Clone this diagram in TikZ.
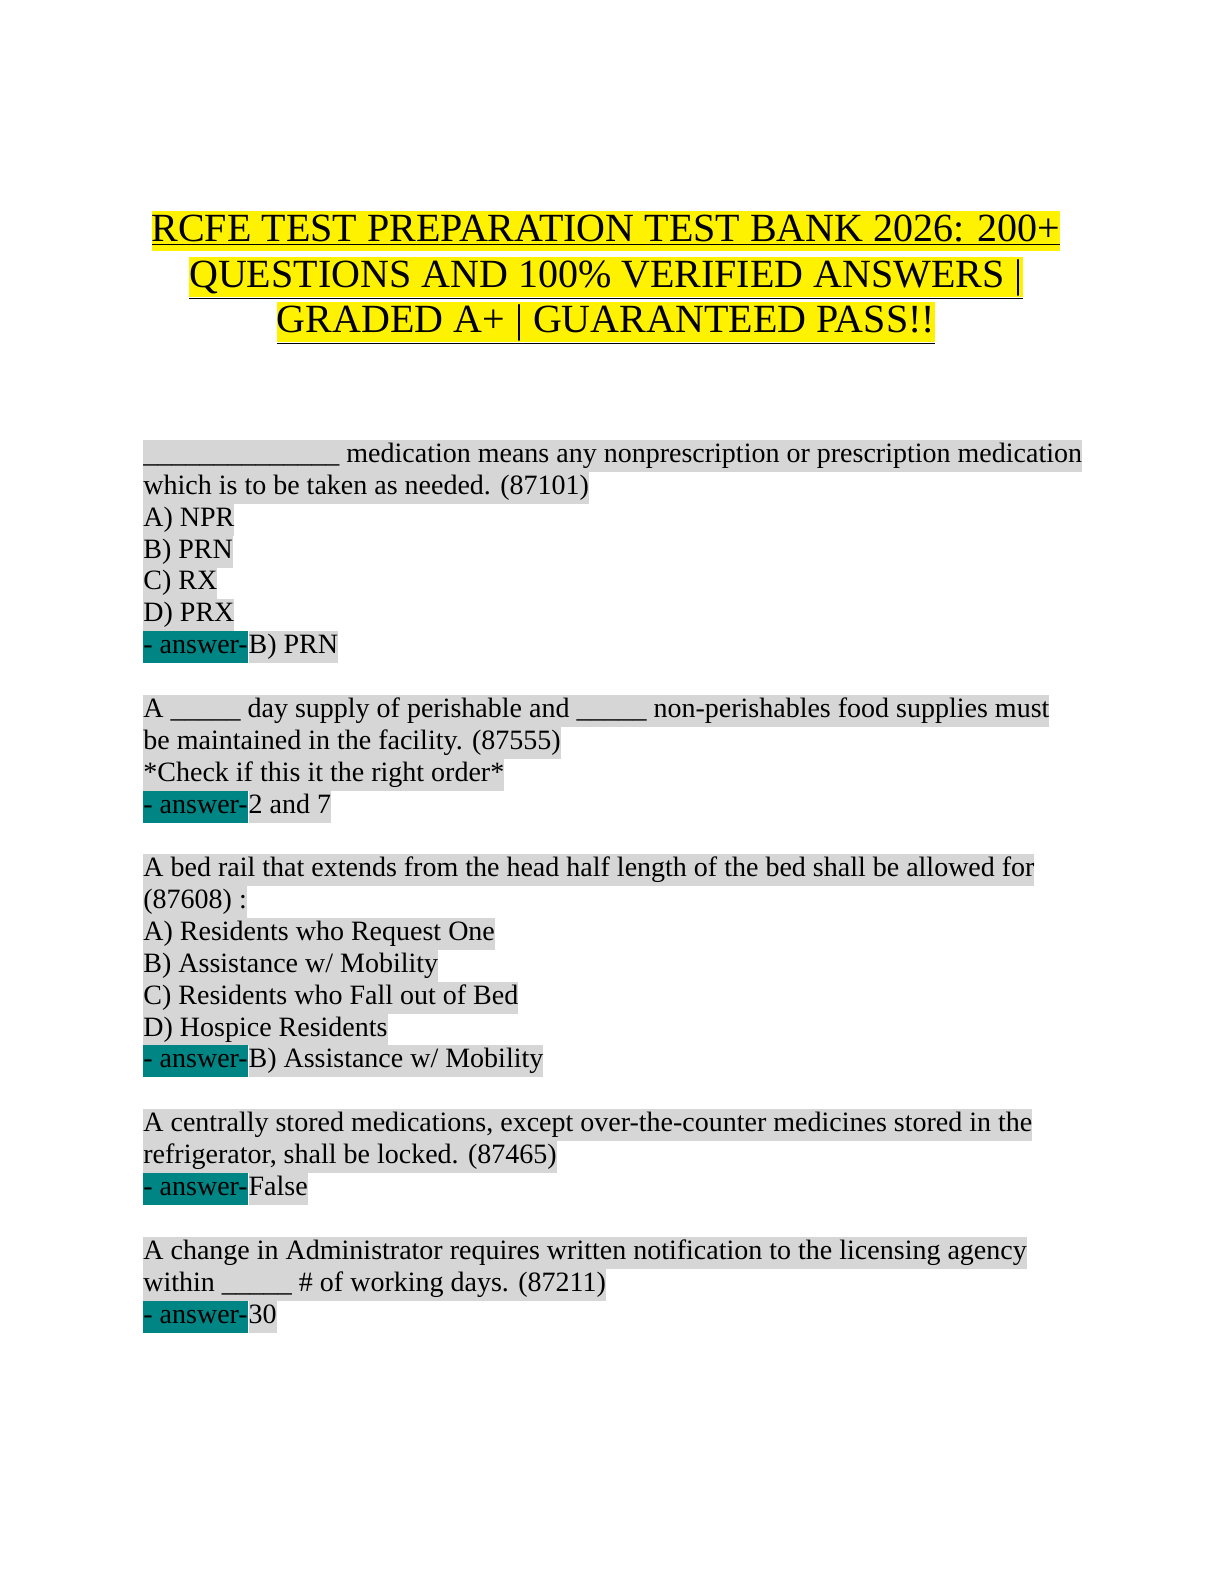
\documentclass[tikz,border=0pt]{standalone}
\usepackage{fontspec}
\setmainfont{Liberation Serif}
\usetikzlibrary{positioning}
\definecolor{hlgray}{RGB}{214,214,214}
\definecolor{ansteal}{RGB}{0,133,133}
\begin{document}
\begin{tikzpicture}
        [x=0.5pt,y=-0.5pt,
        title/.style={fill=yellow,inner sep=0pt,text height=15pt,text depth=5pt,font=\fontsize{20}{23}\selectfont},
        line/.style={fill=hlgray,inner sep=0pt,text height=11pt,text depth=5pt,anchor=west,font=\fontsize{14}{16}\selectfont},
        ans/.style={line,fill=ansteal},
        rest/.style={line,right=0pt of #1}]
\useasboundingbox (0,0) rectangle (1224,1584);

% Title %
\node[title] (t1) at (606,231) {\underline{RCFE TEST PREPARATION TEST BANK 2026: 200+}};
\node[title] (t2) at (606,277) {\underline{QUESTIONS AND 100\% VERIFIED ANSWERS |}};
\node[title] (t3) at (606,322) {\underline{GRADED A+ | GUARANTEED PASS!!}};

% Question 1 %
\node[line] (q11) at (143,456) {\_\_\_\_\_\_\_\_\_\_\_\_\_\_ medication means any nonprescription or prescription medication};
\node[line] (q12) at (143,488) {which is to be taken as needed. (87101)};
\node[line] (q13) at (143,520) {A) NPR};
\node[line] (q14) at (143,552) {B) PRN};
\node[line] (q15) at (143,583) {C) RX};
\node[line] (q16) at (143,615) {D) PRX};
\node[ans] (a1) at (143,647) {- answer-};
\node[rest=a1] (r1) {B) PRN};

% Question 2 %
\node[line] (q21) at (143,711) {A \_\_\_\_\_ day supply of perishable and \_\_\_\_\_ non-perishables food supplies must};
\node[line] (q22) at (143,743) {be maintained in the facility. (87555)};
\node[line] (q23) at (143,775) {*Check if this it the right order*};
\node[ans] (a2) at (143,807) {- answer-};
\node[rest=a2] (r2) {2 and 7};

% Question 3 %
\node[line] (q31) at (143,870) {A bed rail that extends from the head half length of the bed shall be allowed for};
\node[line] (q32) at (143,902) {(87608) :};
\node[line] (q33) at (143,934) {A) Residents who Request One};
\node[line] (q34) at (143,966) {B) Assistance w/ Mobility};
\node[line] (q35) at (143,998) {C) Residents who Fall out of Bed};
\node[line] (q36) at (143,1030) {D) Hospice Residents};
\node[ans] (a3) at (143,1061) {- answer-};
\node[rest=a3] (r3) {B) Assistance w/ Mobility};

% Question 4 %
\node[line] (q41) at (143,1125) {A centrally stored medications, except over-the-counter medicines stored in the};
\node[line] (q42) at (143,1157) {refrigerator, shall be locked. (87465)};
\node[ans] (a4) at (143,1189) {- answer-};
\node[rest=a4] (r4) {False};

% Question 5 %
\node[line] (q51) at (143,1253) {A change in Administrator requires written notification to the licensing agency};
\node[line] (q52) at (143,1285) {within \_\_\_\_\_ \# of working days. (87211)};
\node[ans] (a5) at (143,1317) {- answer-};
\node[rest=a5] (r5) {30};
\end{tikzpicture}
\end{document}
